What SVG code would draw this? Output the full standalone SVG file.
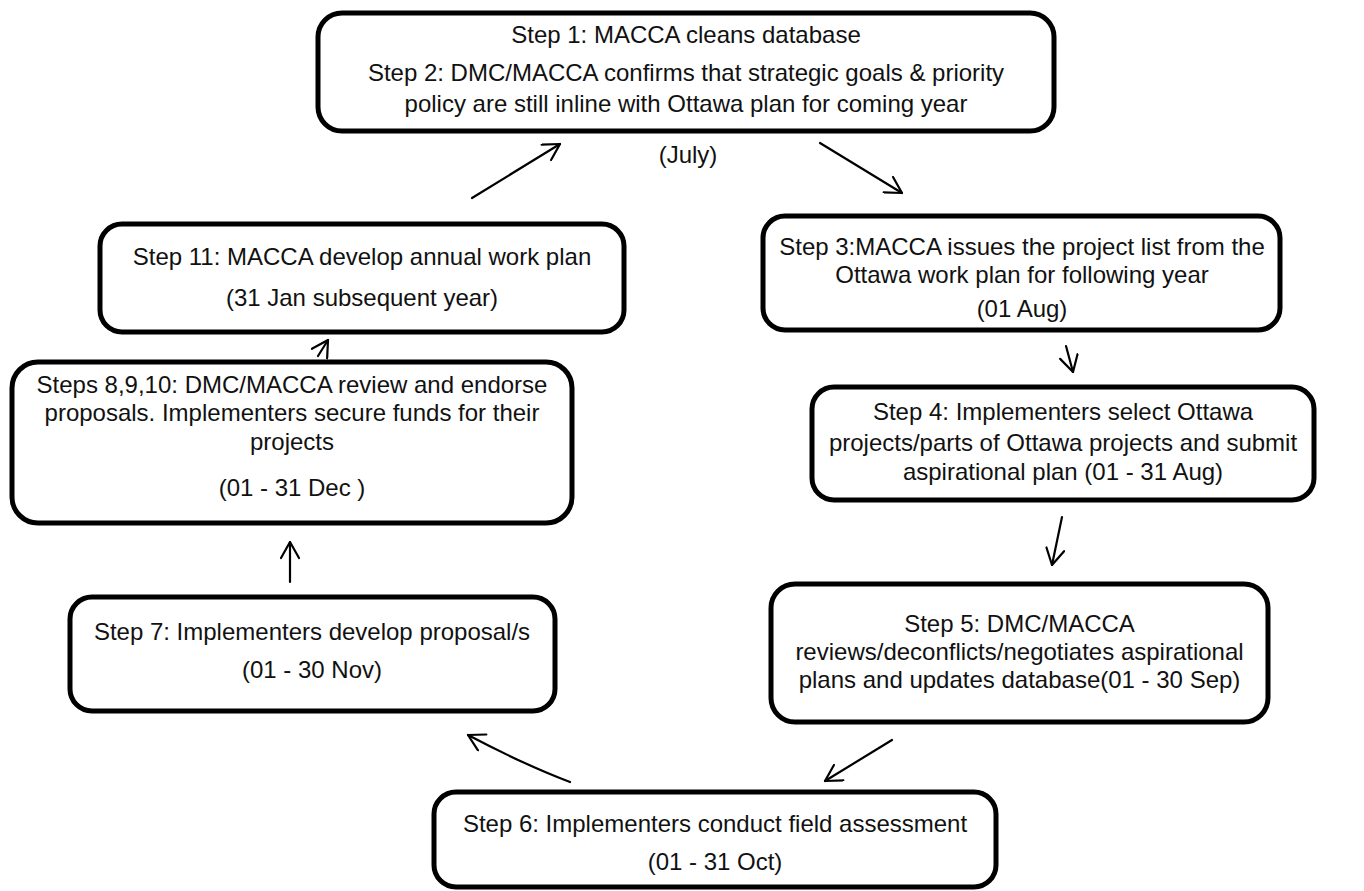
<svg xmlns="http://www.w3.org/2000/svg" width="1364" height="891" viewBox="0 0 1364 891">
  <style>
    .box { fill: #ffffff; stroke: #000000; stroke-width: 5; }
    .lbl { font-family: "Liberation Sans", Arial, sans-serif; font-size: 24px; fill: #111111; text-anchor: middle; }
    .conn { fill: none; stroke: #000000; stroke-width: 2.2; stroke-linecap: round; marker-end: url(#head); }
  </style>
  <defs>
    <marker id="head" viewBox="0 0 20 20" refX="19" refY="10" markerWidth="20" markerHeight="20" markerUnits="userSpaceOnUse" orient="auto">
      <path d="M3,1 L19,10 L3,19" fill="none" stroke="#000000" stroke-width="2.2" stroke-linecap="round" stroke-linejoin="round"/>
    </marker>
  </defs>

  <rect width="1364" height="891" fill="#ffffff"/>

  <!-- connectors -->
  <g id="connectors">
    <path class="conn" d="M472,198 L560,144"/>
    <path class="conn" d="M820,143 L902,193"/>
    <path class="conn" d="M1066,346 L1073,372"/>
    <path class="conn" d="M1062,517 L1052,565"/>
    <path class="conn" d="M892,740 L825,781"/>
    <path class="conn" d="M570,782 Q525,765 468,735"/>
    <path class="conn" d="M290,582 L290,542"/>
    <path class="conn" d="M318,356 L328,340"/>
  </g>

  <!-- Step 1 / Step 2 -->
  <g id="step1-2">
    <rect class="box" x="318" y="13" width="736" height="118" rx="24"/>
    <text class="lbl" x="686" y="43">Step 1: MACCA cleans database</text>
    <text class="lbl" x="686" y="81">Step 2: DMC/MACCA confirms that strategic goals &amp; priority</text>
    <text class="lbl" x="686" y="112">policy are still inline with Ottawa plan for coming year</text>
    <text class="lbl" x="688" y="163">(July)</text>
  </g>

  <!-- Step 3 -->
  <g id="step3">
    <rect class="box" x="763" y="216" width="517" height="114" rx="22"/>
    <text class="lbl" x="1022" y="255">Step 3:MACCA issues the project list from the</text>
    <text class="lbl" x="1022" y="283">Ottawa work plan for following year</text>
    <text class="lbl" x="1022" y="317">(01 Aug)</text>
  </g>

  <!-- Step 4 -->
  <g id="step4">
    <rect class="box" x="812" y="387" width="502" height="113" rx="22"/>
    <text class="lbl" x="1063" y="420">Step 4: Implementers select Ottawa</text>
    <text class="lbl" x="1063" y="451">projects/parts of Ottawa projects and submit</text>
    <text class="lbl" x="1063" y="480">aspirational plan (01 - 31 Aug)</text>
  </g>

  <!-- Step 5 -->
  <g id="step5">
    <rect class="box" x="771" y="584" width="497" height="138" rx="24"/>
    <text class="lbl" x="1019.5" y="632">Step 5: DMC/MACCA</text>
    <text class="lbl" x="1019.5" y="660">reviews/deconflicts/negotiates aspirational</text>
    <text class="lbl" x="1019.5" y="688">plans and updates database(01 - 30 Sep)</text>
  </g>

  <!-- Step 6 -->
  <g id="step6">
    <rect class="box" x="434" y="792" width="562" height="95" rx="22"/>
    <text class="lbl" x="715" y="832">Step 6: Implementers conduct field assessment</text>
    <text class="lbl" x="715" y="870">(01 - 31 Oct)</text>
  </g>

  <!-- Step 7 -->
  <g id="step7">
    <rect class="box" x="70" y="597" width="485" height="114" rx="22"/>
    <text class="lbl" x="312" y="640">Step 7: Implementers develop proposal/s</text>
    <text class="lbl" x="312" y="678">(01 - 30 Nov)</text>
  </g>

  <!-- Steps 8, 9, 10 -->
  <g id="step8-10">
    <rect class="box" x="12" y="362" width="560" height="161" rx="26"/>
    <text class="lbl" x="292" y="393">Steps 8,9,10: DMC/MACCA review and endorse</text>
    <text class="lbl" x="292" y="421">proposals. Implementers secure funds for their</text>
    <text class="lbl" x="292" y="450">projects</text>
    <text class="lbl" x="292" y="496">(01 - 31 Dec )</text>
  </g>

  <!-- Step 11 -->
  <g id="step11">
    <rect class="box" x="100" y="224" width="524" height="108" rx="22"/>
    <text class="lbl" x="362" y="265">Step 11: MACCA develop annual work plan</text>
    <text class="lbl" x="362" y="306">(31 Jan subsequent year)</text>
  </g>
</svg>
